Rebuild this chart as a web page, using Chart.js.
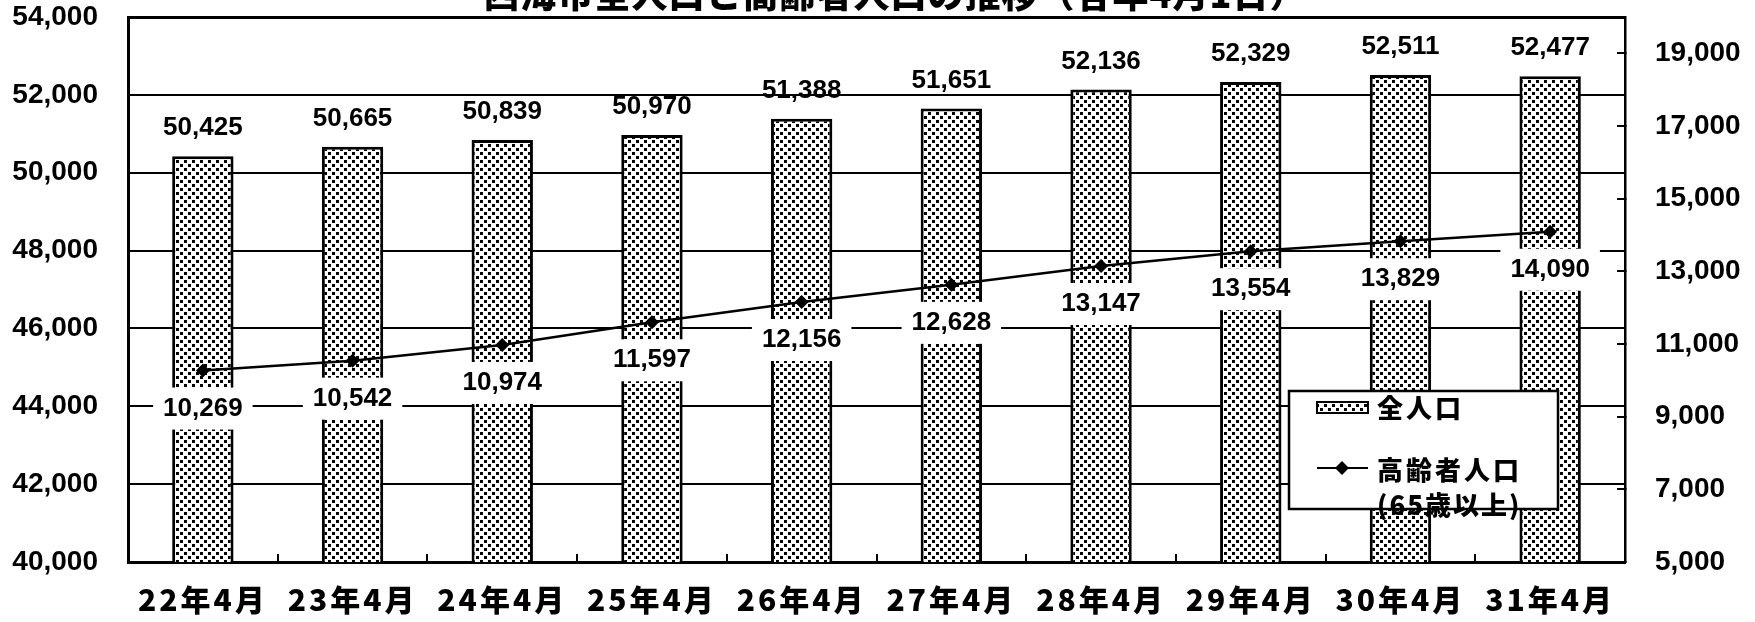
<!DOCTYPE html>
<html lang="ja">
<head>
<meta charset="utf-8">
<script src="https://cdn.jsdelivr.net/npm/chart.js@4.4.1/dist/chart.umd.min.js"></script>
<style>
  html, body { margin: 0; padding: 0; background: #fff; }
  canvas { display: block; }
</style>
</head>
<body>
<canvas id="c" width="1755" height="622"></canvas>
<script>
// ---- data ----
const titleText = '西海市全人口と高齢者人口の推移（各年4月1日）';
const categories = ['22年4月', '23年4月', '24年4月', '25年4月', '26年4月', '27年4月', '28年4月', '29年4月', '30年4月', '31年4月'];
const totalPopulation = [50425, 50665, 50839, 50970, 51388, 51651, 52136, 52329, 52511, 52477];
const elderlyPopulation = [10269, 10542, 10974, 11597, 12156, 12628, 13147, 13554, 13829, 14090];
const leftTicks = [40000, 42000, 44000, 46000, 48000, 50000, 52000, 54000];
const rightTicks = [5000, 7000, 9000, 11000, 13000, 15000, 17000, 19000];
const seriesNames = ['全人口', '高齢者人口', '(65歳以上)'];

// ---- styles ----
const NUM_FONT = '"Liberation Sans", Arial, sans-serif';
const JP_FONT = '"Noto Sans CJK JP", "Noto Sans", sans-serif';

function makePattern() {
  const t = document.createElement('canvas');
  t.width = 8; t.height = 8;
  const g = t.getContext('2d');
  g.fillStyle = '#fff';
  g.fillRect(0, 0, 8, 8);
  g.fillStyle = '#000';
  g.fillRect(0, 0, 3, 3);
  g.fillRect(4, 4, 3, 3);
  return g.createPattern(t, 'repeat');
}
const dotPattern = makePattern();

const fmt = v => v.toLocaleString('en-US');

const overlayPlugin = {
  id: 'overlay',
  afterDatasetsDraw(chart) {
    const ctx = chart.ctx;
    ctx.save();
    ctx.letterSpacing = '0px';
    ctx.font = 'bold 26px ' + NUM_FONT;
    ctx.fillStyle = '#000';
    ctx.textAlign = 'center';
    ctx.textBaseline = 'middle';
    // bar labels
    const barMeta = chart.getDatasetMeta(0);
    barMeta.data.forEach((el, i) => {
      ctx.fillText(fmt(totalPopulation[i]), el.x, el.y - 28);
    });
    // line labels with white boxes
    const lineMeta = chart.getDatasetMeta(1);
    lineMeta.data.forEach((el, i) => {
      const s = fmt(elderlyPopulation[i]);
      const w = ctx.measureText(s).width + 20;
      const cy = el.y + 38;
      ctx.fillStyle = '#fff';
      ctx.fillRect(el.x - w / 2, cy - 21, w, 42);
      ctx.fillStyle = '#000';
      ctx.fillText(s, el.x, cy);
    });
    ctx.restore();
    // letter spacing for the x tick labels (drawn in a later layer)
    ctx.letterSpacing = '3px';
  },
  afterDraw(chart) {
    const ctx = chart.ctx;
    ctx.letterSpacing = '0px';
    ctx.save();
    // title (cut off at top of picture)
    ctx.font = '900 36px ' + JP_FONT;
    ctx.fillStyle = '#000';
    ctx.textAlign = 'center';
    ctx.textBaseline = 'ideographic';
    ctx.letterSpacing = '1px';
    ctx.fillText(titleText, 895, 12);

    // legend box
    const bx = 1289, by = 391, bw = 269, bh = 118;
    ctx.letterSpacing = '0px';
    ctx.fillStyle = '#fff';
    ctx.fillRect(bx, by, bw, bh);
    ctx.strokeStyle = '#000';
    ctx.lineWidth = 2.5;
    ctx.strokeRect(bx, by, bw, bh);

    // bar swatch
    ctx.fillStyle = dotPattern;
    ctx.fillRect(1317, 402, 51, 11);
    ctx.lineWidth = 2;
    ctx.strokeRect(1317, 402, 51, 11);

    // line swatch
    ctx.beginPath();
    ctx.moveTo(1317, 468);
    ctx.lineTo(1368, 468);
    ctx.stroke();
    ctx.fillStyle = '#000';
    ctx.beginPath();
    ctx.moveTo(1342, 461); ctx.lineTo(1349, 468); ctx.lineTo(1342, 475); ctx.lineTo(1335, 468);
    ctx.closePath();
    ctx.fill();

    ctx.font = '900 26px ' + JP_FONT;
    ctx.textAlign = 'left';
    ctx.textBaseline = 'middle';
    ctx.letterSpacing = '3px';
    ctx.fillText(seriesNames[0], 1377, 408);
    ctx.fillText(seriesNames[1], 1377, 470);
    ctx.letterSpacing = '2px';
    ctx.fillText(seriesNames[2], 1377, 505);
    ctx.restore();
  }
};

function noPad(scale) {
  scale.paddingTop = 0;
  scale.paddingBottom = 0;
  scale.paddingLeft = 0;
  scale.paddingRight = 0;
}

new Chart(document.getElementById('c'), {
  type: 'bar',
  data: {
    labels: categories,
    datasets: [
      {
        type: 'bar',
        label: seriesNames[0],
        data: totalPopulation,
        yAxisID: 'y',
        backgroundColor: dotPattern,
        borderColor: '#000',
        borderWidth: 3,
        borderSkipped: false,
        categoryPercentage: 1.0,
        barPercentage: 0.41,
        order: 2
      },
      {
        type: 'line',
        label: seriesNames[1],
        data: elderlyPopulation,
        yAxisID: 'y2',
        borderColor: '#000',
        borderWidth: 2.5,
        backgroundColor: '#000',
        pointStyle: 'rectRot',
        pointRadius: 7,
        pointBorderWidth: 0,
        tension: 0,
        fill: false,
        order: 1
      }
    ]
  },
  options: {
    responsive: false,
    devicePixelRatio: 1,
    animation: false,
    layout: { autoPadding: false, padding: { top: 17, left: 0, right: 0, bottom: 0 } },
    plugins: {
      legend: { display: false },
      title: { display: false },
      tooltip: { enabled: false }
    },
    scales: {
      x: {
        position: 'bottom',
        offset: true,
        grid: {
          offset: true,
          drawOnChartArea: false,
          drawTicks: true,
          tickLength: -8,
          color: '#000',
          lineWidth: 2
        },
        border: { display: true, color: '#000', width: 3 },
        ticks: {
          z: 1,
          color: '#000',
          padding: 31,
          maxRotation: 0,
          autoSkip: false,
          font: { family: JP_FONT, size: 30, weight: 900, lineHeight: 1 }
        },
        afterFit(scale) { scale.height = 60; noPad(scale); }
      },
      y: {
        position: 'left',
        min: 40000,
        max: 54000,
        afterBuildTicks(scale) { scale.ticks = leftTicks.map(v => ({ value: v })); },
        grid: {
          color: '#000',
          lineWidth: ctx => (ctx.tick && ctx.tick.value === 54000 ? 3 : 2),
          drawTicks: false
        },
        border: { display: true, color: '#000', width: 3 },
        ticks: {
          color: '#000',
          padding: 30,
          font: { family: NUM_FONT, size: 28, weight: 'bold', lineHeight: 1 },
          callback: v => fmt(v)
        },
        afterFit(scale) { scale.width = 128; noPad(scale); }
      },
      y2: {
        position: 'right',
        min: 5000,
        max: 20000,
        afterBuildTicks(scale) { scale.ticks = rightTicks.map(v => ({ value: v })); },
        grid: {
          drawOnChartArea: false,
          drawTicks: true,
          tickLength: -8,
          color: '#000',
          lineWidth: 2
        },
        border: { display: true, color: '#000', width: 2.5 },
        ticks: {
          color: '#000',
          padding: 38,
          font: { family: NUM_FONT, size: 28, weight: 'bold', lineHeight: 1 },
          callback: v => fmt(v)
        },
        afterFit(scale) { scale.width = 130; noPad(scale); }
      }
    }
  },
  plugins: [overlayPlugin]
});
</script>
</body>
</html>
